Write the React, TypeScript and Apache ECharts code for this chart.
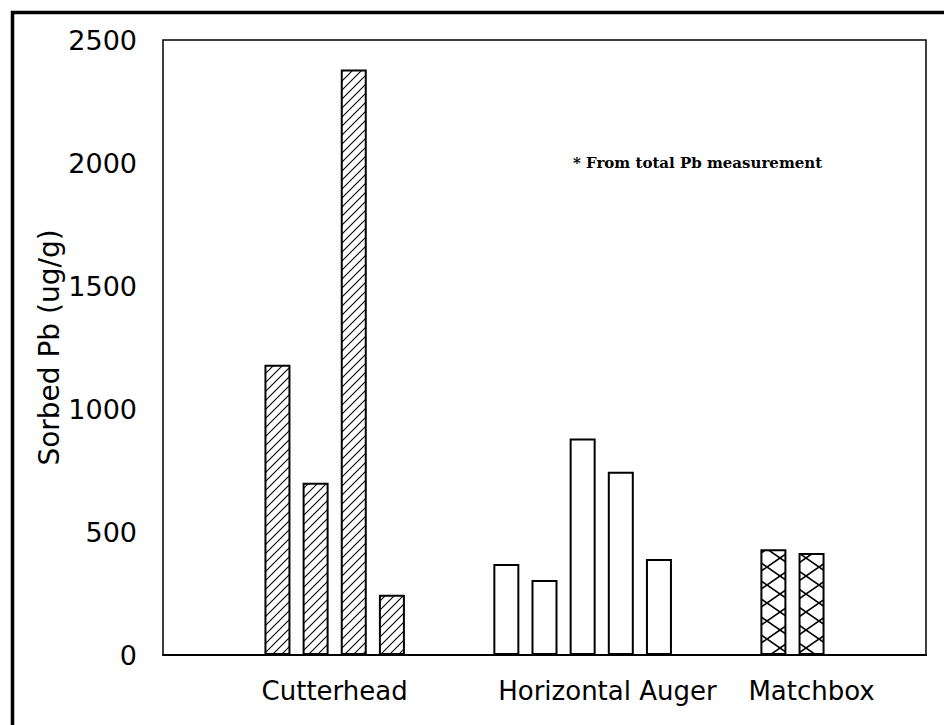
import React, { useEffect, useRef } from "react";
import * as echarts from "echarts";

// slot positions (value x-axis, 0..20) and sorbed Pb values (ug/g)
const cutterheadX = [3, 4, 5, 6];
const cutterheadVals = [1180, 700, 2380, 245];
const augerX = [9, 10, 11, 12, 13];
const augerVals = [370, 305, 880, 745, 390];
const matchboxX = [16, 17];
const matchboxVals = [430, 415];

const groupNames = ["Cutterhead", "Horizontal Auger", "Matchbox"];
const groupLabelPos = [4.5, 11.65, 17];

const yTicks = [0, 500, 1000, 1500, 2000, 2500];
const noteText = "* From total Pb measurement";

function makeHatch() {
  const s = 9;
  const c = document.createElement("canvas");
  c.width = s;
  c.height = s;
  const ctx = c.getContext("2d")!;
  ctx.fillStyle = "#fff";
  ctx.fillRect(0, 0, s, s);
  ctx.strokeStyle = "#000";
  ctx.lineWidth = 1.1;
  ctx.beginPath();
  ctx.moveTo(-1, s + 1);
  ctx.lineTo(s + 1, -1);
  ctx.moveTo(-1, 1);
  ctx.lineTo(1, -1);
  ctx.moveTo(s - 1, s + 1);
  ctx.lineTo(s + 1, s - 1);
  ctx.stroke();
  return c;
}

function makeCross() {
  const c = document.createElement("canvas");
  c.width = 26;
  c.height = 18;
  const ctx = c.getContext("2d")!;
  ctx.fillStyle = "#fff";
  ctx.fillRect(0, 0, 26, 18);
  ctx.strokeStyle = "#000";
  ctx.lineWidth = 1.6;
  ctx.beginPath();
  ctx.moveTo(0, 0);
  ctx.lineTo(26, 18);
  ctx.moveTo(0, 18);
  ctx.lineTo(26, 0);
  ctx.stroke();
  return c;
}

export default function App() {
  const ref = useRef<HTMLDivElement>(null);
  useEffect(() => {
    document.body.style.margin = "0";
    if (!ref.current) return;
    const chart = echarts.init(ref.current, null, { renderer: "svg" });
    const hatch = makeHatch();
    const cross = makeCross();
    const toData = (xs: number[], vs: number[]) => xs.map((x, i) => [x, vs[i]]);
    const barCommon = {
      type: "bar",
      barWidth: 26,
      barGap: "-100%",
      silent: true,
    };
    const labelFont = { color: "#000", fontFamily: "DejaVu Sans" };
    chart.setOption({
      animation: false,
      backgroundColor: "#fff",
      grid: {
        left: 163,
        top: 40,
        right: 18,
        bottom: 70,
        show: true,
        borderColor: "#000",
        borderWidth: 1.5,
        backgroundColor: "transparent",
      },
      xAxis: {
        type: "value",
        min: 0,
        max: 20,
        interval: 0.05,
        splitLine: { show: false },
        axisTick: { show: false },
        axisLine: { show: true, lineStyle: { color: "#000", width: 2 } },
        axisLabel: {
          show: true,
          margin: 23,
          ...labelFont,
          fontSize: 26,
          showMinLabel: false,
          showMaxLabel: false,
          formatter: (v: number) => {
            const i = groupLabelPos.findIndex((p) => Math.abs(p - v) < 1e-6);
            return i >= 0 ? groupNames[i] : "";
          },
        },
      },
      yAxis: {
        type: "value",
        min: yTicks[0],
        max: yTicks[yTicks.length - 1],
        interval: 500,
        splitLine: { show: false },
        axisTick: { show: false },
        axisLine: { show: false },
        axisLabel: {
          margin: 26,
          ...labelFont,
          fontSize: 27,
          formatter: (v: number) => String(v),
        },
        name: "Sorbed Pb (ug/g)",
        nameLocation: "middle",
        nameRotate: 90,
        nameGap: 100,
        nameMoveOverlap: false,
        nameTextStyle: {
          ...labelFont,
          fontSize: 28,
        },
      },
      graphic: [
        {
          type: "rect",
          left: 10,
          top: 10,
          shape: { x: 0, y: 0, width: 1000, height: 1000 },
          style: { fill: "none", stroke: "#000", lineWidth: 3.5 },
          silent: true,
        },
        {
          type: "text",
          left: 573,
          top: 155,
          style: {
            text: noteText,
            fill: "#000",
            fontFamily: "DejaVu Serif",
            fontWeight: "bold",
            fontSize: 15,
          },
        },
      ],
      series: [
        {
          ...barCommon,
          name: "Cutterhead",
          data: toData(cutterheadX, cutterheadVals),
          itemStyle: {
            color: { image: hatch, repeat: "repeat", imageWidth: 9, imageHeight: 9 },
            borderColor: "#000",
            borderWidth: 2,
          },
        },
        {
          ...barCommon,
          name: "Horizontal Auger",
          data: toData(augerX, augerVals),
          itemStyle: { color: "#fff", borderColor: "#000", borderWidth: 2 },
        },
        {
          ...barCommon,
          name: "Matchbox",
          data: toData(matchboxX, matchboxVals),
          itemStyle: {
            color: { image: cross, repeat: "repeat", imageWidth: 26, imageHeight: 18 },
            borderColor: "#000",
            borderWidth: 2,
          },
        },
      ],
    });
    return () => chart.dispose();
  }, []);
  return <div ref={ref} style={{ width: 944, height: 725 }} />;
}
